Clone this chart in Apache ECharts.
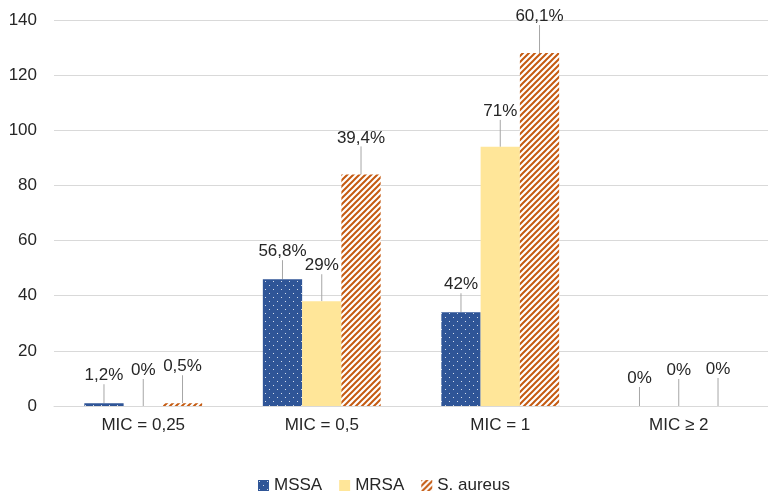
<!DOCTYPE html>
<html>
<head>
<meta charset="utf-8">
<script src="https://cdn.jsdelivr.net/npm/echarts@6/dist/echarts.min.js"></script>
<style>
html, body { margin: 0; padding: 0; background: #fff; }
#main { width: 768px; height: 498px; }
</style>
</head>
<body>
<div id="main"></div>
<script>
var categories = ['MIC = 0,25', 'MIC = 0,5', 'MIC = 1', 'MIC \u2265 2'];
var mssa = [1, 46, 34, 0];
var mrsa = [0, 38, 94, 0];
var aureus = [1, 84, 128, 0];
var mssaPct = ['1,2%', '56,8%', '42%', '0%'];
var mrsaPct = ['0%', '29%', '71%', '0%'];
var aureusPct = ['0,5%', '39,4%', '60,1%', '0%'];

// dotted fill for MSSA
function dotPattern() {
	var c = document.createElement('canvas');
	c.width = 8; c.height = 8;
	var ctx = c.getContext('2d');
	ctx.fillStyle = '#2F5597';
	ctx.fillRect(0, 0, 8, 8);
	ctx.fillStyle = 'rgba(255,255,255,0.8)';
	ctx.fillRect(1, 1, 1, 1);
	ctx.fillRect(5, 5, 1, 1);
	return c;
}

// diagonal stripes for S. aureus
function stripePattern() {
	var c = document.createElement('canvas');
	c.width = 6; c.height = 6;
	var ctx = c.getContext('2d');
	ctx.fillStyle = '#fff';
	ctx.fillRect(0, 0, 6, 6);
	ctx.strokeStyle = '#C55A11';
	ctx.lineWidth = 2;
	ctx.beginPath();
	ctx.moveTo(-1, 7); ctx.lineTo(7, -1);
	ctx.moveTo(-4, 4); ctx.lineTo(4, -4);
	ctx.moveTo(2, 10); ctx.lineTo(10, 2);
	ctx.stroke();
	return c;
}

function pctLabel(texts) {
	return {
		show: true,
		position: 'top',
		distance: 4,
		color: '#262626',
		fontSize: 17,
		fontFamily: 'Liberation Sans',
		formatter: function (p) { return texts[p.dataIndex]; }
	};
}

var line = { show: true, lineStyle: { color: '#a6a6a6', width: 1 } };

var myChart = echarts.init(document.getElementById('main'));
var option = {
	backgroundColor: '#fff',
	textStyle: { fontFamily: 'Liberation Sans' },
	grid: { left: 54, right: -8, top: 20, bottom: 92 },
	legend: {
		bottom: -1,
		left: 'center',
		itemWidth: 11,
		itemHeight: 11,
		itemGap: 17,
		icon: 'rect',
		textStyle: { fontSize: 17, color: '#262626', fontFamily: 'Liberation Sans' },
		data: ['MSSA', 'MRSA', 'S. aureus']
	},
	xAxis: {
		type: 'category',
		data: categories,
		axisLine: { lineStyle: { color: '#d9d9d9' } },
		axisTick: { show: false },
		axisLabel: { fontSize: 17, color: '#262626', margin: 11 }
	},
	yAxis: {
		type: 'value',
		min: 0, max: 140, interval: 20,
		axisLine: { show: false },
		axisTick: { show: false },
		splitLine: { lineStyle: { color: '#d9d9d9' } },
		axisLabel: { fontSize: 17, color: '#262626', margin: 17 }
	},
	series: [{
		name: 'MSSA', type: 'bar', data: mssa,
		barGap: '0%', barCategoryGap: '34%',
		itemStyle: { color: { image: dotPattern(), repeat: 'repeat' } },
		label: pctLabel(mssaPct),
		labelLayout: { dy: -15 },
		labelLine: line
	}, {
		name: 'MRSA', type: 'bar', data: mrsa,
		itemStyle: { color: '#FFE699' },
		label: pctLabel(mrsaPct),
		labelLayout: { dy: -23 },
		labelLine: line
	}, {
		name: 'S. aureus', type: 'bar', data: aureus,
		itemStyle: { color: { image: stripePattern(), repeat: 'repeat' } },
		label: pctLabel(aureusPct),
		labelLayout: { dy: -24 },
		labelLine: line
	}]
};
myChart.setOption(option);
</script>
</body>
</html>
